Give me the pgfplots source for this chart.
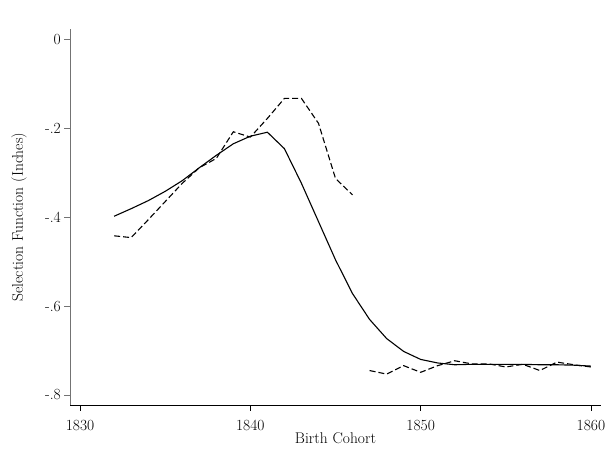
\documentclass[border=0pt]{standalone}
\usepackage{fontspec}
\usepackage{pgfplots}
\pgfplotsset{compat=1.18}
\begin{document}
\fontsize{15.5bp}{18bp}\selectfont
\begin{tikzpicture}[x=1bp,y=1bp]
\path[use as bounding box] (0,0) rectangle (609,466);
\begin{axis}[
  at={(70bp,61bp)}, anchor=south west,
  scale only axis, width=531bp, height=375.7bp,
  xmin=1829.41, xmax=1860.59, ymin=-0.8225, ymax=0.0225,
  axis x line*=bottom, axis y line*=left,
  x axis line style={black, line width=0.9bp, -},
  y axis line style={black!55, line width=0.9bp, -},
  xtick={1830,1840,1850,1860}, xticklabels={1830,1840,1850,1860},
  ytick={-0.8,-0.6,-0.4,-0.2,0}, yticklabels={-.8,-.6,-.4,-.2,0},
  tick align=outside, major tick length=6bp,
  xtick style={black, line width=0.8bp},
  ytick style={black!55, line width=0.8bp},
  xticklabel style={anchor=north, inner sep=0pt, yshift=-9bp},
  yticklabel style={anchor=east, inner sep=0pt, xshift=-3bp},
  xlabel={Birth Cohort}, ylabel={Selection Function (Inches)},
  xlabel style={at={(axis description cs:0.5,-0.1038)}, anchor=base, inner sep=0pt},
  ylabel style={at={(axis description cs:-0.096,0.5)}, anchor=center, inner sep=0pt},
  clip=false,
]
\addplot[black, line width=1.1bp] coordinates {
(1832,-0.398) (1833,-0.381) (1834,-0.363) (1835,-0.342) (1836,-0.318)
(1837,-0.289) (1838,-0.261) (1839,-0.235) (1840,-0.218) (1841,-0.209)
(1842,-0.246) (1843,-0.324) (1844,-0.410) (1845,-0.496) (1846,-0.572)
(1847,-0.630) (1848,-0.673) (1849,-0.702) (1850,-0.720) (1851,-0.728)
(1852,-0.732) (1853,-0.731) (1854,-0.731) (1855,-0.731) (1856,-0.731)
(1857,-0.732) (1858,-0.732) (1859,-0.733) (1860,-0.735)
};
\addplot[black, line width=1.1bp, dash pattern=on 6bp off 3bp] coordinates {
(1832,-0.442) (1833,-0.446) (1834,-0.406) (1835,-0.365) (1836,-0.324)
(1837,-0.289) (1838,-0.268) (1839,-0.208) (1840,-0.220) (1841,-0.178)
(1842,-0.133) (1843,-0.133) (1844,-0.189) (1845,-0.313) (1846,-0.350)
};
\addplot[black, line width=1.1bp, dash pattern=on 6bp off 3bp] coordinates {
(1847,-0.745) (1848,-0.753) (1849,-0.734) (1850,-0.749) (1851,-0.734)
(1852,-0.723) (1853,-0.730) (1854,-0.730) (1855,-0.737) (1856,-0.731)
(1857,-0.745) (1858,-0.726) (1859,-0.732) (1860,-0.737)
};
\end{axis}
\end{tikzpicture}
\end{document}
